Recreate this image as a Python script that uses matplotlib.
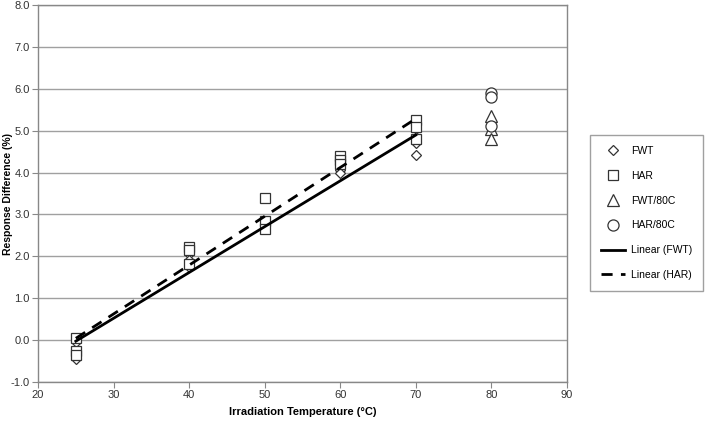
import numpy as np
import matplotlib
matplotlib.use("Agg")
import matplotlib.pyplot as plt

plt.rcParams['font.family'] = ['Liberation Sans', 'DejaVu Sans']

# Data
fwt_x = [25, 25, 25, 40, 40, 40, 50, 50, 50, 60, 60, 60, 70, 70, 70, 70]
fwt_y = [-0.05, -0.30, -0.45, 2.05, 1.92, 1.75, 2.72, 2.68, 2.65, 4.15, 4.05, 4.00, 4.85, 4.75, 4.70, 4.42]
har_x = [25, 25, 25, 40, 40, 40, 50, 50, 50, 60, 60, 60, 70, 70, 70]
har_y = [0.05, -0.25, -0.35, 2.22, 2.15, 1.82, 3.40, 2.85, 2.65, 4.40, 4.30, 4.20, 5.25, 5.10, 4.80]
fwt80_x = [80, 80, 80]
fwt80_y = [5.35, 5.05, 4.80]
har80_x = [80, 80, 80]
har80_y = [5.90, 5.80, 5.12]

fig = plt.figure(figsize=(7.05, 4.21), dpi=100)
ax = fig.add_axes([0.054, 0.0926, 0.75, 0.8954])

ax.set_xlim(20, 90)
ax.set_ylim(-1, 8)
ax.set_xticks(np.arange(20, 91, 10))
ax.set_yticks(np.arange(-1, 8.01, 1))
ax.set_yticklabels([f"{v:.1f}" for v in np.arange(-1, 8.01, 1)])
ax.yaxis.grid(True, color='#a0a0a0', linewidth=1.0)
ax.set_axisbelow(True)
for s in ax.spines.values():
    s.set_color('#888888')
    s.set_linewidth(1.0)
ax.tick_params(axis='both', labelsize=8, colors='#333333', length=4, color='#888888', pad=2)

mk = dict(linestyle='none', markerfacecolor='white', markeredgecolor='#333333', markeredgewidth=0.9)
ax.plot(fwt_x, fwt_y, marker='D', markersize=5.5, label='FWT', **mk)
ax.plot(har_x, har_y, marker='s', markersize=7, label='HAR', **mk)
ax.plot(fwt80_x, fwt80_y, marker='^', markersize=8, label='FWT/80C', **mk)
ax.plot(har80_x, har80_y, marker='o', markersize=8, label='HAR/80C', **mk)

xx = np.array([25, 70])
p1 = np.polyfit(fwt_x, fwt_y, 1)
p2 = np.polyfit(har_x, har_y, 1)
ax.plot(xx, np.polyval(p1, xx), color='black', linewidth=2.0, label='Linear (FWT)')
ax.plot(xx, np.polyval(p2, xx), color='black', linewidth=2.0, linestyle=(0, (4, 3)), label='Linear (HAR)')

ax.set_xlabel('Irradiation Temperature (°C)', fontsize=8, fontweight='bold', labelpad=5)
ax.set_ylabel('Response Difference (%)', fontsize=7.5, fontweight='bold')
ax.yaxis.set_label_coords(-0.047, 0.5)

h, l = ax.get_legend_handles_labels()
leg = fig.legend(h, l, loc='upper left', bbox_to_anchor=(0.837, 0.679), fontsize=7.5,
                 frameon=True, fancybox=False, edgecolor='#888888', labelspacing=1.42,
                 borderpad=1.05, handlelength=2.3, handletextpad=0.6, borderaxespad=0)
leg.get_frame().set_linewidth(1.0)

fig.savefig('out.png', dpi=100)
